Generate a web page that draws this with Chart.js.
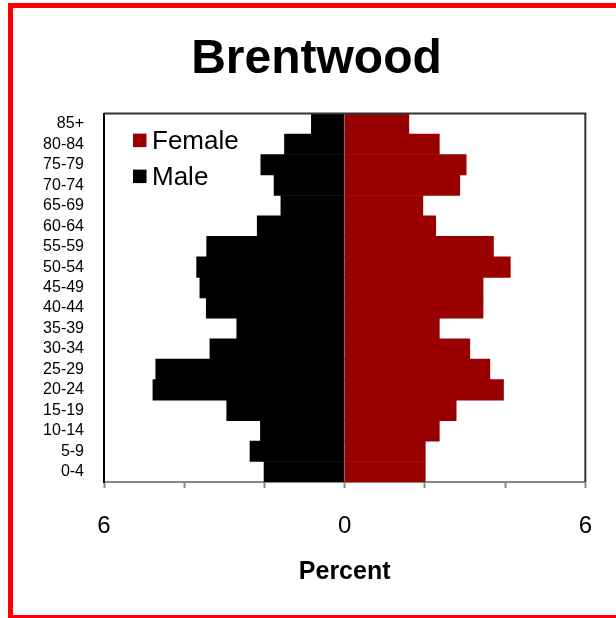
<!DOCTYPE html>
<html>
<head>
<meta charset="utf-8">
<script src="https://cdn.jsdelivr.net/npm/chart.js@4/dist/chart.umd.min.js"></script>
<style>
  html, body { margin: 0; padding: 0; background: #fff; overflow: hidden; }
  body { width: 616px; height: 618px; position: relative; }
  #frame {
    position: absolute; left: 8px; top: 3px;
    width: 700px; height: 607px;
    border: 5px solid #ff0000;
  }
  #wrap { position: absolute; left: 0; top: 0; width: 603px; height: 607px; }
</style>
</head>
<body>
<div id="frame">
  <div id="wrap"><canvas id="pyramid"></canvas></div>
</div>
<script>
const ageGroups = ['85+', '80-84', '75-79', '70-74', '65-69', '60-64', '55-59', '50-54', '45-49',
                   '40-44', '35-39', '30-34', '25-29', '20-24', '15-19', '10-14', '5-9', '0-4'];
const femalePct = [1.60, 2.36, 3.03, 2.87, 1.95, 2.27, 3.71, 4.13, 3.45,
                   3.45, 2.36, 3.12, 3.62, 3.96, 2.78, 2.36, 2.01, 2.01];
const malePct   = [0.83, 1.50, 2.09, 1.76, 1.59, 2.18, 3.44, 3.69, 3.61,
                   3.45, 2.69, 3.36, 4.71, 4.78, 2.94, 2.10, 2.36, 2.01];
const xTickLabels = { '-6': '6', '0': '0', '6': '6' };

const FONT = 'Liberation Sans, Arial, sans-serif';

// top + right edges of the plot box, and the legend inside the plot
const plotFrame = {
    id: 'plotFrame',
    afterLayout(chart) {
        // title sits a bit right of the canvas centre in the original
        if (chart.titleBlock) chart.titleBlock.left = 33;
    },
    afterDraw(chart) {
        const { ctx, chartArea: a } = chart;
        ctx.save();
        ctx.strokeStyle = '#333';
        ctx.lineWidth = 2;
        ctx.beginPath();
        ctx.moveTo(a.left, a.top);
        ctx.lineTo(a.right, a.top);
        ctx.lineTo(a.right, a.bottom);
        ctx.stroke();

        ctx.font = '26px ' + FONT;
        ctx.textBaseline = 'middle';
        ctx.textAlign = 'left';
        chart.data.datasets.forEach(function(ds, i) {
            const cy = a.top + 27 + i * 36;
            ctx.fillStyle = ds.backgroundColor;
            ctx.fillRect(a.left + 29, cy - 7, 13.5, 13.5);
            ctx.fillStyle = '#000';
            ctx.fillText(ds.label, a.left + 48, cy + 1);
        });
        ctx.restore();
    }
};

new Chart(document.getElementById('pyramid'), {
    type: 'bar',
    data: {
        labels: ageGroups,
        datasets: [
            {
                label: 'Female',
                data: femalePct,
                backgroundColor: '#990000',
                borderWidth: 0,
                barPercentage: 1,
                categoryPercentage: 1
            },
            {
                label: 'Male',
                data: malePct.map(v => -v),
                backgroundColor: '#000000',
                borderWidth: 0,
                barPercentage: 1,
                categoryPercentage: 1
            }
        ]
    },
    options: {
        indexAxis: 'y',
        responsive: true,
        maintainAspectRatio: false,
        animation: false,
        layout: { padding: { left: 0, right: 29, top: 0, bottom: 0 } },
        plugins: {
            legend: { display: false },
            tooltip: { enabled: false },
            title: {
                display: true,
                text: 'Brentwood',
                color: '#000',
                font: { family: FONT, size: 48, weight: 'bold', lineHeight: 1.2 },
                padding: { top: 23, bottom: 25 }
            }
        },
        scales: {
            x: {
                stacked: true,
                min: -6,
                max: 6,
                afterFit: s => { s.height = 133; },
                ticks: {
                    stepSize: 2,
                    autoSkip: false,
                    maxRotation: 0,
                    padding: 24,
                    color: '#000',
                    font: { family: FONT, size: 24 },
                    callback: v => xTickLabels[String(v)] || ''
                },
                grid: {
                    display: true,
                    drawOnChartArea: false,
                    drawTicks: true,
                    tickLength: 6,
                    tickColor: '#888',
                    tickWidth: 2
                },
                border: { display: true, color: '#888', width: 2 },
                title: {
                    display: true,
                    text: 'Percent',
                    color: '#000',
                    font: { family: FONT, size: 25, weight: 'bold', lineHeight: 1.2 },
                    padding: { top: 0, bottom: 28 }
                }
            },
            y: {
                stacked: true,
                afterFit: s => { s.width = 91; },
                ticks: {
                    autoSkip: false,
                    padding: 20,
                    color: '#000',
                    font: { family: FONT, size: 16 }
                },
                grid: { display: false, drawTicks: false },
                border: { display: true, color: '#000', width: 2 }
            }
        }
    },
    plugins: [plotFrame]
});
</script>
</body>
</html>
